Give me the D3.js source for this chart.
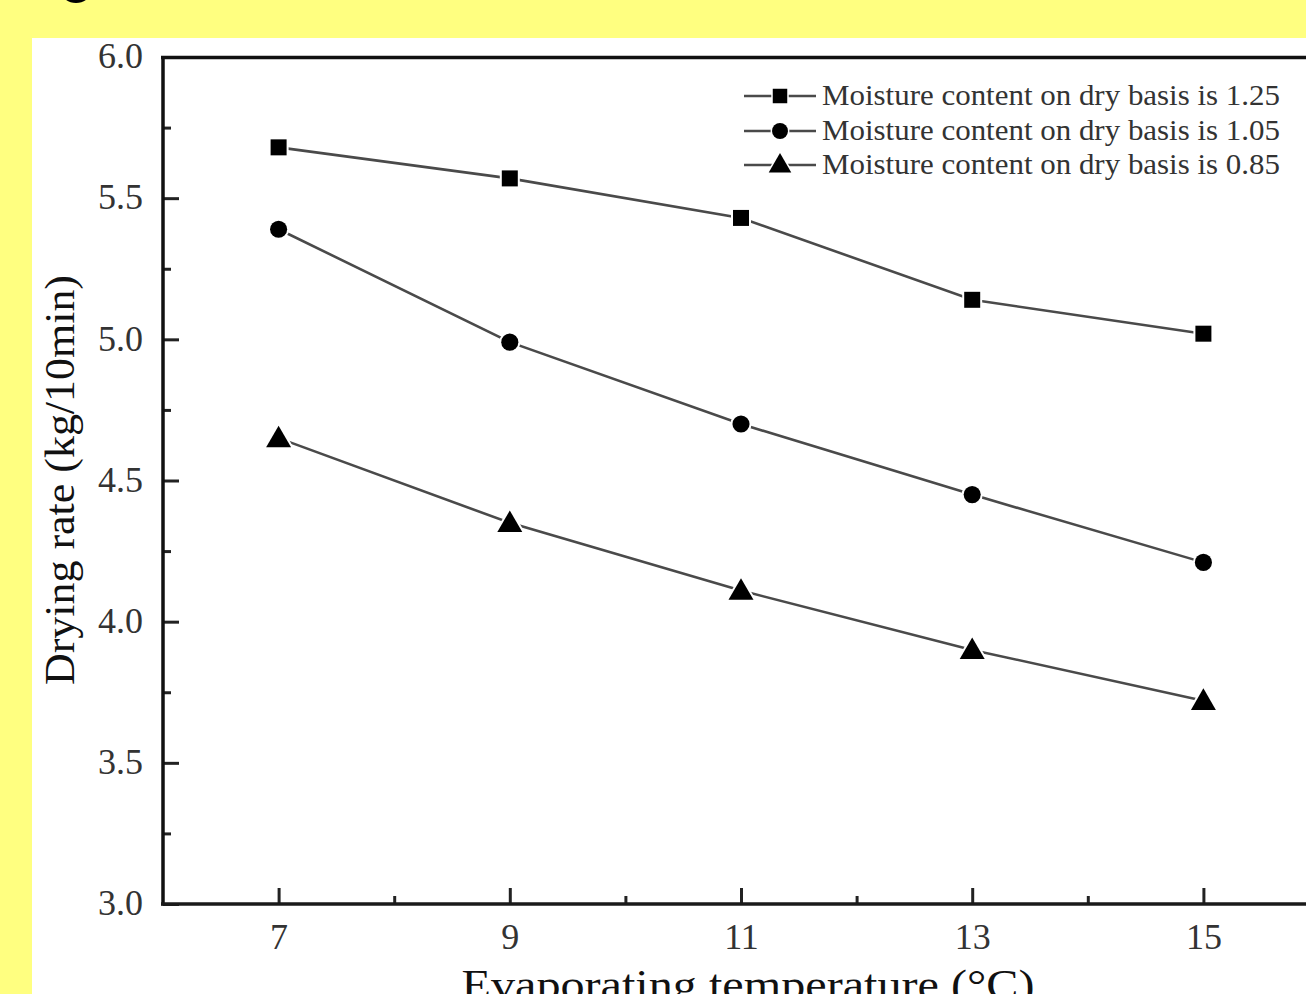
<!DOCTYPE html>
<html><head><meta charset="utf-8">
<script src="https://cdn.jsdelivr.net/npm/d3@7"></script>
<style>
html,body{margin:0;padding:0;background:#FFFF80;overflow:hidden;}
svg{display:block;}
</style></head>
<body>
<svg id="c" width="1306" height="994"></svg>
<script>
const temperatures = [7, 9, 11, 13, 15];
const seriesNames = [
  "Moisture content on dry basis is 1.25",
  "Moisture content on dry basis is 1.05",
  "Moisture content on dry basis is 0.85"
];
const rate125 = [5.68, 5.57, 5.43, 5.14, 5.02];
const rate105 = [5.39, 4.99, 4.70, 4.45, 4.21];
const rate085 = [4.65, 4.35, 4.11, 3.90, 3.72];
const yTicks = [3.0, 3.5, 4.0, 4.5, 5.0, 5.5, 6.0];
const yMinorTicks = [3.25, 3.75, 4.25, 4.75, 5.25, 5.75];
const xTicks = [7, 9, 11, 13, 15];
const xMinorTicks = [8, 10, 12, 14];
const markerTypes = [d3.symbolSquare, d3.symbolCircle, d3.symbolTriangle];

const svg = d3.select("#c");
const font = "'Liberation Serif', 'Times New Roman', serif";

// white panel
svg.append("rect").attr("x", 32).attr("y", 38).attr("width", 1306 - 32).attr("height", 994 - 38).attr("fill", "#fff");
// cut-off glyph from title above
svg.append("ellipse").attr("cx", 76).attr("cy", -7).attr("rx", 14).attr("ry", 10).attr("fill", "#000");

const x = d3.scaleLinear().domain([6, 16]).range([163, 1319]);
const y = d3.scaleLinear().domain([3, 6]).range([904, 57]);

// minor ticks
svg.append("g").attr("transform", "translate(163,0)")
  .call(d3.axisLeft(y).tickValues(yMinorTicks).tickSize(-8).tickFormat(""))
  .call(g => g.select(".domain").remove())
  .selectAll("line").attr("stroke", "#222").attr("stroke-width", 3);
svg.append("g").attr("transform", "translate(0,904)")
  .call(d3.axisBottom(x).tickValues(xMinorTicks).tickSize(-8).tickFormat(""))
  .call(g => g.select(".domain").remove())
  .selectAll("line").attr("stroke", "#222").attr("stroke-width", 3);

// major axes
const yAxis = svg.append("g").attr("transform", "translate(163,0)")
  .call(d3.axisLeft(y).tickValues(yTicks).tickSize(-16).tickPadding(20).tickFormat(d3.format(".1f")));
yAxis.select(".domain").remove();
yAxis.selectAll("line").attr("stroke", "#222").attr("stroke-width", 3);
yAxis.selectAll("text").attr("font-family", font).attr("font-size", 36).attr("fill", "#333").attr("dy", "0.3em");

const xAxis = svg.append("g").attr("transform", "translate(0,904)")
  .call(d3.axisBottom(x).tickValues(xTicks).tickSize(-16).tickPadding(20));
xAxis.select(".domain").remove();
xAxis.selectAll("line").attr("stroke", "#222").attr("stroke-width", 3);
xAxis.selectAll("text").attr("font-family", font).attr("font-size", 36).attr("fill", "#333").attr("dy", "0.7em");

// frame lines
svg.append("line").attr("x1", 163).attr("x2", 163).attr("y1", 56).attr("y2", 905.5).attr("stroke", "#111").attr("stroke-width", 3.5);
svg.append("line").attr("x1", 161).attr("x2", 1306).attr("y1", 904).attr("y2", 904).attr("stroke", "#1a1a1a").attr("stroke-width", 3.5);
svg.append("line").attr("x1", 161).attr("x2", 1306).attr("y1", 57.5).attr("y2", 57.5).attr("stroke", "#111").attr("stroke-width", 3.5);

// axis titles
svg.append("text")
  .attr("transform", "translate(74,480) rotate(-90)")
  .attr("text-anchor", "middle")
  .attr("font-family", font).attr("font-size", 42).attr("fill", "#111")
  .attr("textLength", 410).attr("lengthAdjust", "spacingAndGlyphs")
  .text("Drying rate (kg/10min)");
svg.append("text")
  .attr("x", 748).attr("y", 999)
  .attr("text-anchor", "middle")
  .attr("font-family", font).attr("font-size", 42).attr("fill", "#111")
  .attr("textLength", 573).attr("lengthAdjust", "spacingAndGlyphs")
  .text("Evaporating temperature (°C)");

// series
const allSeries = [rate125, rate105, rate085];
const line = d3.line().x((d, i) => x(temperatures[i])).y(d => y(d));
const markerSizes = [256, 230, 270];
allSeries.forEach((vals, s) => {
  svg.append("path").datum(vals).attr("d", line)
    .attr("fill", "none").attr("stroke", "#4a4a4a").attr("stroke-width", 2.6);
  const sym = d3.symbol().type(markerTypes[s]).size(markerSizes[s]);
  svg.append("g").selectAll("path").data(vals).join("path")
    .attr("transform", (d, i) => `translate(${x(temperatures[i])},${y(d) + (s === 2 ? 2 : 0)})`)
    .attr("d", sym)
    .attr("fill", "#000").attr("stroke", "#fff").attr("stroke-width", 4).attr("paint-order", "stroke");
});

// legend
const legendY = [96, 131, 165];
seriesNames.forEach((name, s) => {
  const ly = legendY[s];
  svg.append("line").attr("x1", 744).attr("x2", 816).attr("y1", ly).attr("y2", ly)
    .attr("stroke", "#4a4a4a").attr("stroke-width", 2.6);
  svg.append("path").attr("transform", `translate(780,${ly + (s === 2 ? 1 : 0)})`)
    .attr("d", d3.symbol().type(markerTypes[s]).size([210, 200, 220][s]))
    .attr("fill", "#000").attr("stroke", "#fff").attr("stroke-width", 3).attr("paint-order", "stroke");
  svg.append("text").attr("x", 822).attr("y", ly + 9)
    .attr("font-family", font).attr("font-size", 29).attr("fill", "#333")
    .attr("textLength", 458).attr("lengthAdjust", "spacingAndGlyphs")
    .text(name);
});
</script>
</body></html>
